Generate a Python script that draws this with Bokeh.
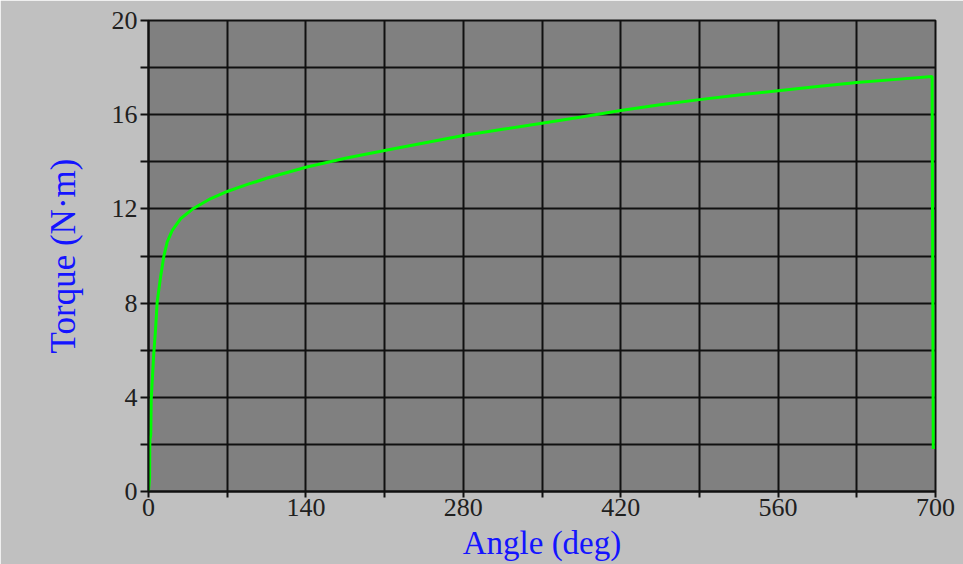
from bokeh.plotting import figure
from bokeh.models import Range1d, FixedTicker
from bokeh.embed import file_html
from bokeh.resources import INLINE

# Data (angle in degrees, torque in N·m)
angle = [0, 1.0, 1.2, 2.0, 2.4, 3.2, 4.7, 6.2, 7.7, 10.7, 13.6, 16.6, 21.0, 28.5,
         40.3, 55.0, 70.0, 88.0, 105.0, 140.0, 175.0, 210.0, 245.0, 280.0, 315.0,
         350.0, 385.0, 420.0, 455.0, 490.0, 525.0, 560.0, 595.0, 630.0, 665.0,
         697.0, 698.0]
torque = [0, 0.6, 2.2, 2.4, 3.9, 4.6, 5.86, 6.84, 8.04, 9.1, 9.98, 10.59, 11.08, 11.58,
          12.03, 12.43, 12.74, 13.04, 13.3, 13.77, 14.15, 14.48, 14.8, 15.12, 15.38,
          15.64, 15.9, 16.18, 16.42, 16.64, 16.84, 17.02, 17.2, 17.37, 17.5,
          17.62, 1.8]

x_major = [0, 140, 280, 420, 560, 700]
x_minor = [70, 210, 350, 490, 630]
y_major = [0, 4, 8, 12, 16, 20]
y_minor = [2, 6, 10, 14, 18]

p = figure(width=963, height=564, output_backend="svg", toolbar_location=None,
           x_range=Range1d(0, 700), y_range=Range1d(0, 20),
           min_border_left=148, min_border_right=28, min_border_top=20,
           min_border_bottom=73)

p.border_fill_color = "#c0c0c0"
p.background_fill_color = "#808080"
p.outline_line_color = "#101010"
p.outline_line_width = 2

p.xaxis.ticker = FixedTicker(ticks=x_major, minor_ticks=x_minor)
p.yaxis.ticker = FixedTicker(ticks=y_major, minor_ticks=y_minor)
p.xgrid.ticker = FixedTicker(ticks=sorted(x_major + x_minor))
p.ygrid.ticker = FixedTicker(ticks=sorted(y_major + y_minor))
for g in (p.xgrid, p.ygrid):
    g.grid_line_color = "#101010"
    g.grid_line_width = 2
    g.grid_line_alpha = 1.0

for ax in (p.xaxis, p.yaxis):
    ax.axis_line_color = "#101010"
    ax.axis_line_width = 2
    ax.major_tick_line_color = "#101010"
    ax.minor_tick_line_color = "#101010"
    ax.major_tick_line_width = 2
    ax.minor_tick_line_width = 2
    ax.major_tick_in = 0
    ax.minor_tick_in = 0
    ax.major_label_text_font = "Liberation Serif"
    ax.major_label_text_font_size = "26px"
    ax.major_label_text_color = "#202020"
    ax.axis_label_text_font = "Liberation Serif"
    ax.axis_label_text_font_style = "normal"
    ax.axis_label_text_color = "#1414ff"

p.xaxis.major_tick_out = 6
p.xaxis.minor_tick_out = 6
p.xaxis.major_label_standoff = 1
p.xaxis.axis_label = "Angle (deg)"
p.xaxis.axis_label_text_font_size = "33px"
p.xaxis.axis_label_standoff = 6

p.yaxis.major_tick_out = 8
p.yaxis.minor_tick_out = 8
p.yaxis.major_label_standoff = 3
p.yaxis.axis_label = "Torque (N·m)"
p.yaxis.axis_label_text_font_size = "35px"
p.yaxis.axis_label_standoff = 26

p.line(angle, torque, line_color="#00ff00", line_width=3)

open("out.html", "w").write(file_html(p, INLINE))
